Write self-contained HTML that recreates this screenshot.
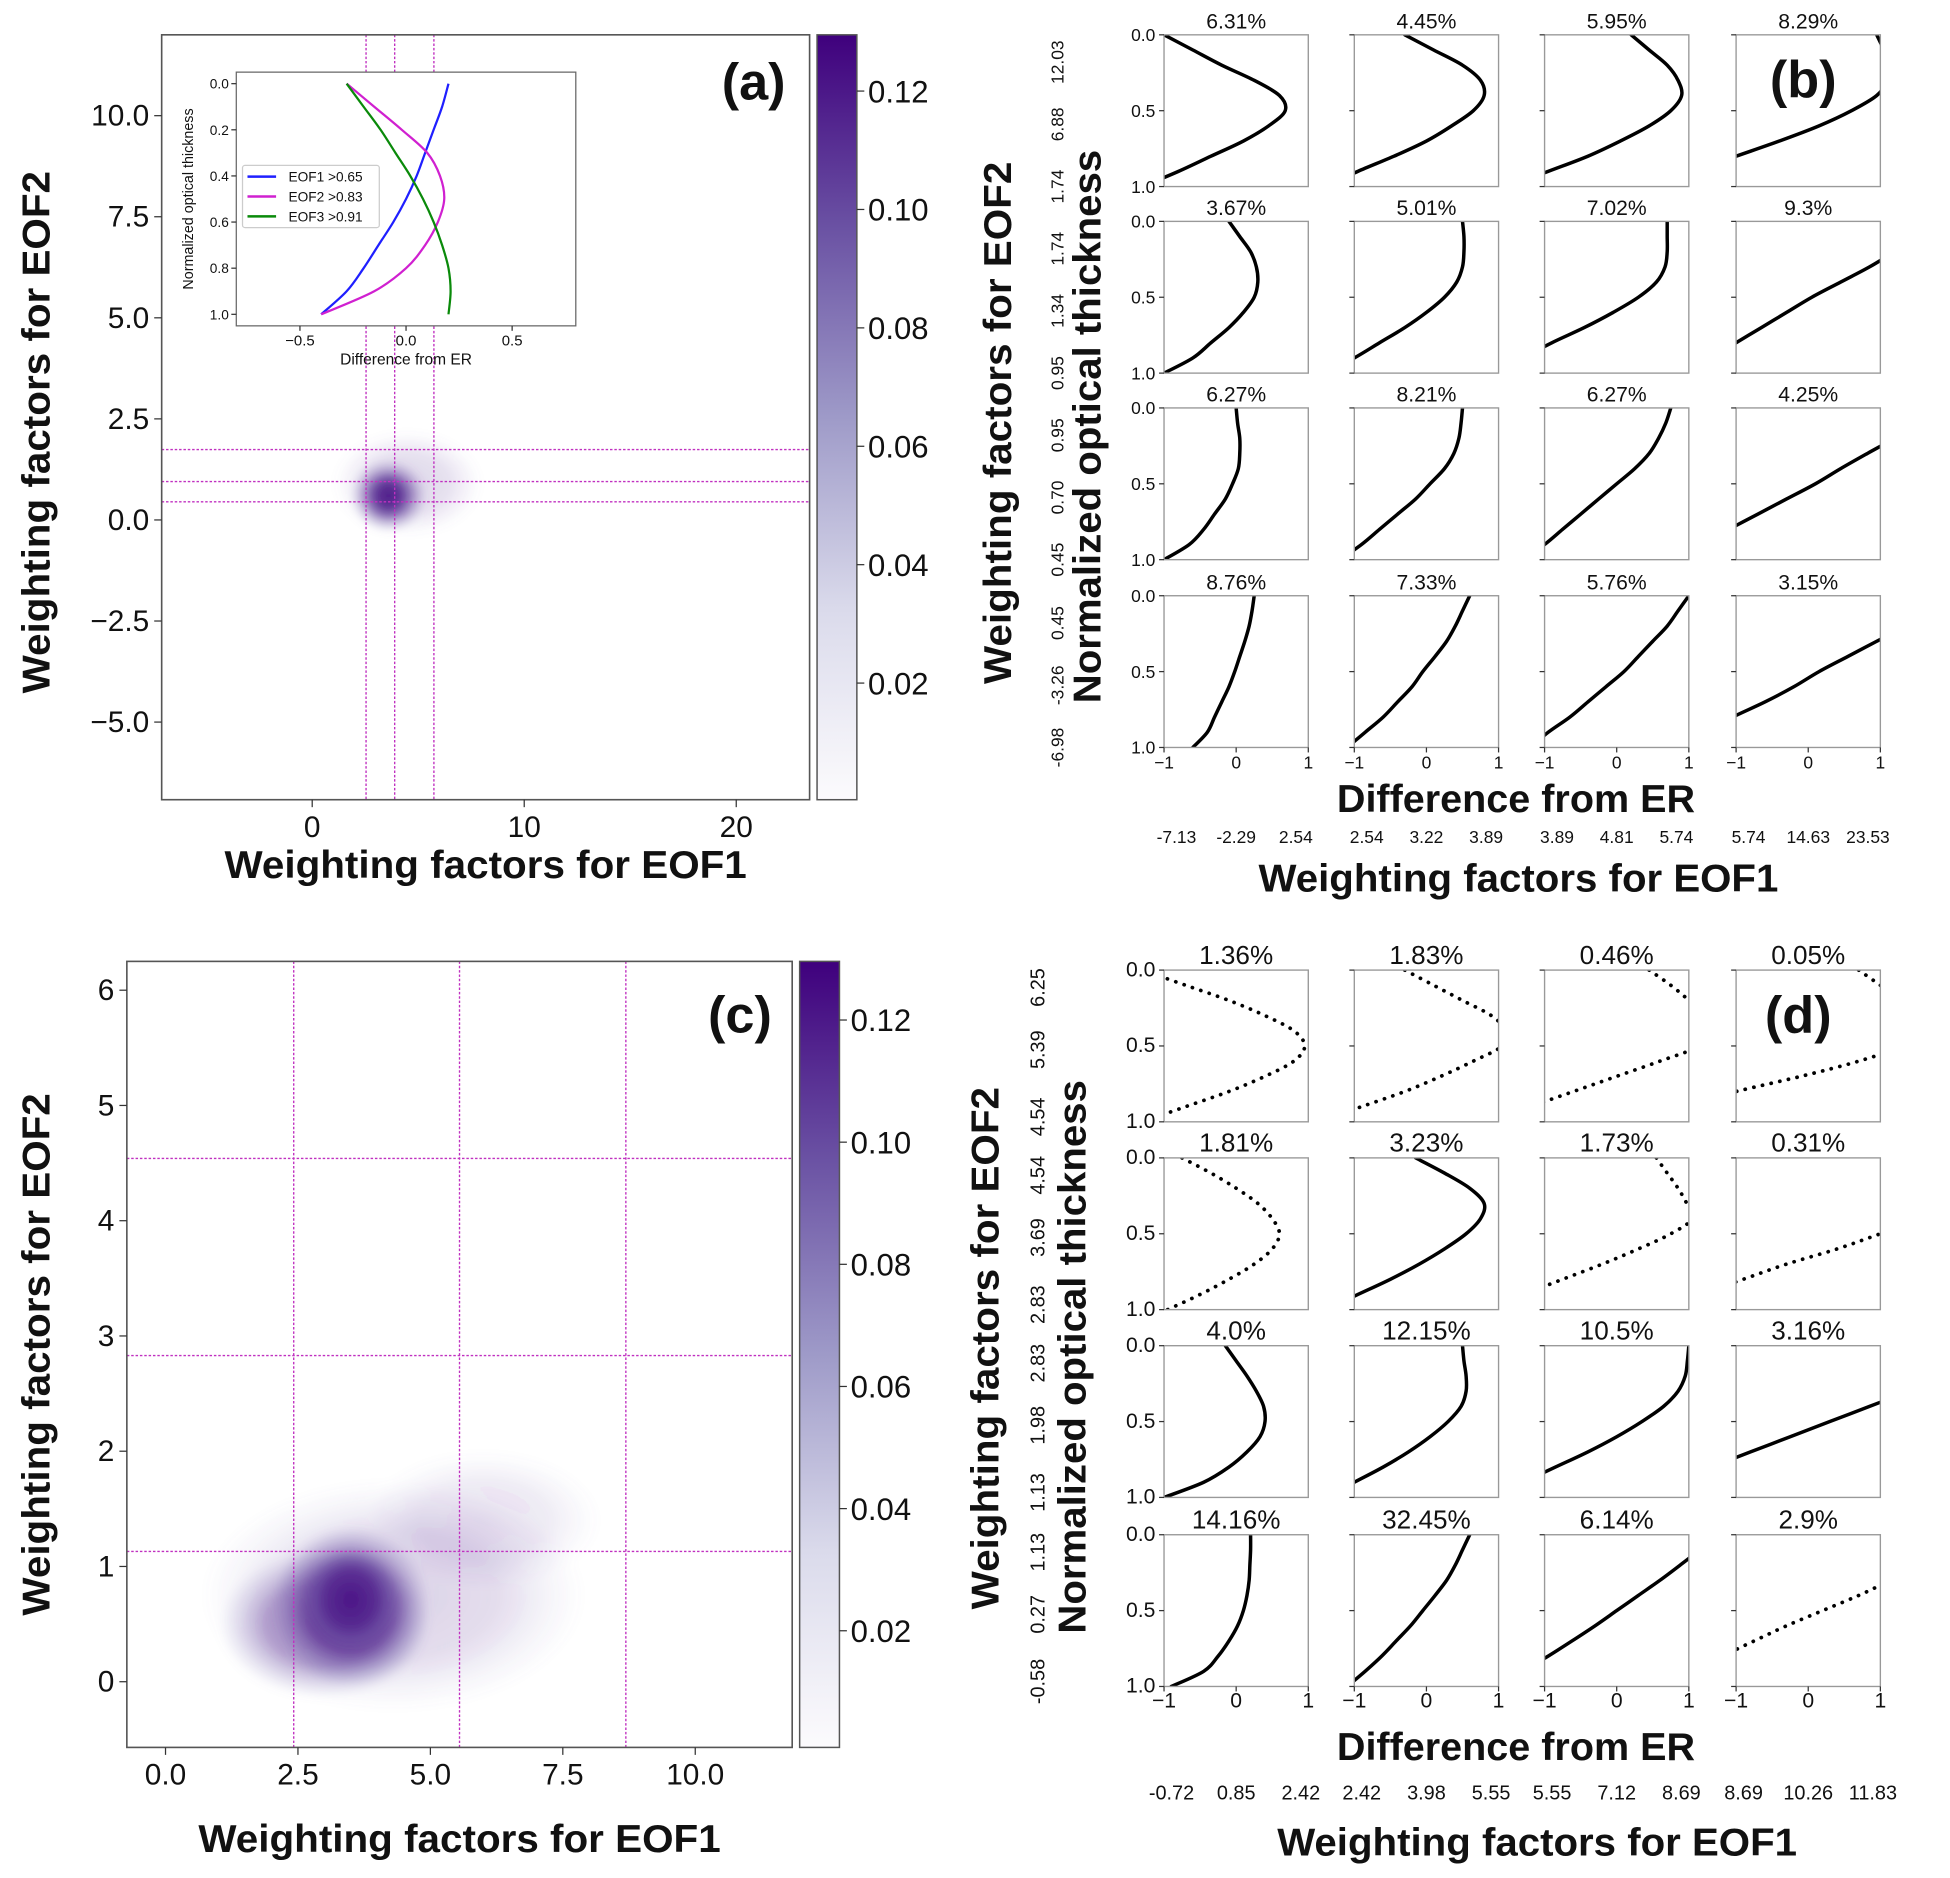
<!DOCTYPE html>
<html><head><meta charset="utf-8"><style>
html,body{margin:0;padding:0;background:#fff}
svg{display:block}
text{font-family:"Liberation Sans","DejaVu Sans",sans-serif;fill:#111}
</style></head><body>
<svg id="fig" width="1950" height="1878" viewBox="0 0 1568 1510" preserveAspectRatio="none" xmlns="http://www.w3.org/2000/svg">
<defs>
<linearGradient id="cmap" x1="0" y1="1" x2="0" y2="0">
<stop offset="0" stop-color="#fcfbfd"/><stop offset="0.25" stop-color="#dadaeb"/><stop offset="0.5" stop-color="#9e9ac8"/><stop offset="0.75" stop-color="#6a51a3"/><stop offset="1" stop-color="#3f007d"/>
</linearGradient>
<radialGradient id="blob"><stop offset="0" stop-color="#4a1486" stop-opacity="1"/><stop offset="0.55" stop-color="#54278f" stop-opacity="0.8"/><stop offset="1" stop-color="#807dba" stop-opacity="0"/></radialGradient>
<filter id="bl"><feGaussianBlur stdDeviation="3"/></filter>
</defs>
<g id="root"></g>
</svg>
<script>
// ---- Panel (a) data ----
const aXTicks=[0,10,20];
const aYTicks=[-5.0,-2.5,0.0,2.5,5.0,7.5,10.0];
const aVLines=[2.54,3.89,5.74];
const aHLines=[0.45,0.95,1.74];
const aBlobX=[4.5,3.6,3.6];
const aBlobY=[0.9,0.6,0.6];
const aBlobRX=[3.5,1.8,1.1];
const aBlobRY=[1.3,0.9,0.6];
const aBlobOp=[0.18,0.7,0.9];
const cbTicks=[0.02,0.04,0.06,0.08,0.10,0.12];
// inset
const insetY=[0,0.1,0.2,0.3,0.4,0.5,0.6,0.7,0.8,0.9,1.0];
const insetEOF1=[0.2,0.17,0.13,0.09,0.05,0.0,-0.06,-0.13,-0.2,-0.28,-0.4];
const insetEOF2=[-0.28,-0.15,-0.02,0.1,0.16,0.18,0.15,0.09,0.0,-0.15,-0.4];
const insetEOF3=[-0.28,-0.2,-0.12,-0.05,0.02,0.08,0.13,0.17,0.2,0.21,0.2];
// ---- Panel (b) data ----
const bTitles=[["6.31%","4.45%","5.95%","8.29%"],["3.67%","5.01%","7.02%","9.3%"],["6.27%","8.21%","6.27%","4.25%"],["8.76%","7.33%","5.76%","3.15%"]];
const bCurves=[
[[-1.0,-0.6,-0.2,0.25,0.6,0.68,0.45,0.1,-0.35,-0.8,-1.3],[-0.3,0.1,0.5,0.75,0.8,0.65,0.35,0.0,-0.45,-0.95,-1.4],[0.2,0.45,0.7,0.85,0.9,0.75,0.45,0.05,-0.4,-0.95,-1.5],[0.95,1.05,1.15,1.1,0.95,0.6,0.15,-0.4,-1.0,-1.6,-2.2]],
[[-0.1,0.05,0.2,0.28,0.3,0.25,0.1,-0.1,-0.35,-0.6,-1.0],[0.5,0.52,0.52,0.5,0.42,0.25,0.0,-0.3,-0.65,-1.0,-1.4],[0.7,0.7,0.7,0.67,0.55,0.3,-0.05,-0.45,-0.9,-1.3,-1.7],[1.9,1.55,1.2,0.85,0.45,0.05,-0.3,-0.65,-1.0,-1.35,-1.7]],
[[0.0,0.02,0.05,0.05,0.03,-0.05,-0.15,-0.3,-0.45,-0.65,-1.0],[0.5,0.48,0.45,0.38,0.25,0.05,-0.15,-0.4,-0.65,-0.9,-1.2],[0.75,0.68,0.58,0.45,0.25,0.0,-0.25,-0.5,-0.75,-1.0,-1.3],[1.9,1.55,1.2,0.82,0.45,0.1,-0.3,-0.7,-1.1,-1.5,-1.9]],
[[0.25,0.22,0.18,0.12,0.05,-0.02,-0.1,-0.2,-0.3,-0.4,-0.6],[0.6,0.5,0.4,0.28,0.12,-0.05,-0.2,-0.4,-0.6,-0.85,-1.1],[1.0,0.85,0.7,0.5,0.3,0.1,-0.15,-0.4,-0.65,-0.95,-1.2],[2.1,1.7,1.35,0.95,0.55,0.15,-0.2,-0.6,-1.05,-1.45,-1.85]]];
const bRowBins=[["12.03","6.88","1.74"],["1.74","1.34","0.95"],["0.95","0.70","0.45"],["0.45","-3.26","-6.98"]];
const bColBins=[["-7.13","-2.29","2.54"],["2.54","3.22","3.89"],["3.89","4.81","5.74"],["5.74","14.63","23.53"]];
// ---- Panel (c) data ----
const cXTicks=[0.0,2.5,5.0,7.5,10.0];
const cYTicks=[0,1,2,3,4,5,6];
const cVLines=[2.42,5.55,8.69];
const cHLines=[1.13,2.83,4.54];
const cBlobX=[4.3,6.0,3.0,3.5,3.5];
const cBlobY=[0.75,1.4,0.5,0.65,0.72];
const cBlobRX=[3.6,2.2,2.0,1.5,0.9];
const cBlobRY=[1.0,0.6,0.65,0.7,0.45];
const cBlobOp=[0.2,0.12,0.5,0.85,0.9];
// ---- Panel (d) data ----
const dTitles=[["1.36%","1.83%","0.46%","0.05%"],["1.81%","3.23%","1.73%","0.31%"],["4.0%","12.15%","10.5%","3.16%"],["14.16%","32.45%","6.14%","2.9%"]];
const dDotted=[[1,1,1,1],[1,0,1,1],[0,0,0,0],[0,0,0,1]];
const dCurves=[
[[-1.3,-0.7,-0.1,0.4,0.8,0.95,0.8,0.4,-0.1,-0.7,-1.3],[-0.3,0.1,0.5,0.9,1.1,1.05,0.65,0.2,-0.3,-0.9,-1.5],[0.45,0.75,1.0,1.2,1.3,1.15,0.6,0.0,-0.6,-1.2,-1.8],[0.7,1.0,1.3,1.5,1.5,1.3,0.7,-0.1,-1.0,-1.8,-2.6]],
[[-0.75,-0.35,0.0,0.3,0.5,0.6,0.5,0.25,-0.1,-0.5,-0.95],[-0.15,0.25,0.6,0.8,0.75,0.55,0.25,-0.1,-0.5,-0.95,-1.4],[0.55,0.7,0.85,0.97,1.05,0.75,0.3,-0.2,-0.75,-1.3,-1.9],[4.1,3.5,2.9,2.2,1.6,1.0,0.4,-0.3,-0.9,-1.5,-2.1]],
[[-0.15,0.0,0.15,0.28,0.38,0.4,0.33,0.15,-0.1,-0.45,-1.0],[0.5,0.52,0.55,0.55,0.48,0.3,0.05,-0.25,-0.6,-1.0,-1.4],[1.0,0.98,0.95,0.85,0.65,0.35,0.0,-0.4,-0.85,-1.3,-1.75],[3.05,2.5,1.95,1.4,0.85,0.3,-0.25,-0.8,-1.35,-1.9,-2.45]],
[[0.2,0.2,0.19,0.18,0.15,0.1,0.02,-0.1,-0.25,-0.45,-0.9],[0.6,0.5,0.4,0.28,0.12,-0.05,-0.22,-0.42,-0.62,-0.85,-1.1],[1.4,1.15,0.88,0.6,0.3,0.0,-0.3,-0.62,-0.95,-1.3,-1.65],[2.6,2.1,1.65,1.15,0.7,0.2,-0.3,-0.75,-1.2,-1.7,-2.2]]];
const dRowBins=[["6.25","5.39","4.54"],["4.54","3.69","2.83"],["2.83","1.98","1.13"],["1.13","0.27","-0.58"]];
const dColBins=[["-0.72","0.85","2.42"],["2.42","3.98","5.55"],["5.55","7.12","8.69"],["8.69","10.26","11.83"]];
const subY=[0,0.1,0.2,0.3,0.4,0.5,0.6,0.7,0.8,0.9,1.0];

const NS="http://www.w3.org/2000/svg";
const root=document.getElementById('root');
function mk(tag,attrs,parent,txt){const e=document.createElementNS(NS,tag);for(const k in attrs)e.setAttribute(k,attrs[k]);if(txt!==undefined)e.textContent=txt;(parent||root).appendChild(e);return e;}
function lin(d0,d1,p0,p1){return v=>p0+(v-d0)*(p1-p0)/(d1-d0);}
function smooth(pts){let d='M'+pts[0][0].toFixed(2)+','+pts[0][1].toFixed(2);for(let i=0;i<pts.length-1;i++){const p0=pts[Math.max(0,i-1)],p1=pts[i],p2=pts[i+1],p3=pts[Math.min(pts.length-1,i+2)];const c1=[p1[0]+(p2[0]-p0[0])/6,p1[1]+(p2[1]-p0[1])/6],c2=[p2[0]-(p3[0]-p1[0])/6,p2[1]-(p3[1]-p1[1])/6];d+='C'+c1[0].toFixed(2)+','+c1[1].toFixed(2)+' '+c2[0].toFixed(2)+','+c2[1].toFixed(2)+' '+p2[0].toFixed(2)+','+p2[1].toFixed(2);}return d;}
let clipId=0;

function heatPanel(P){
  const sx=lin(P.xmin,P.xmax,P.x0,P.x1), sy=lin(P.ymin,P.ymax,P.y1,P.y0);
  const g=mk('g',{});
  
  
  const cid='clip'+(clipId++);
  const cp=mk('clipPath',{id:cid},g);mk('rect',{x:P.x0,y:P.y0,width:P.x1-P.x0,height:P.y1-P.y0},cp);
  const hg=mk('g',{'clip-path':'url(#'+cid+')',filter:'url(#bl)'},g);
  for(let i=0;i<P.bx.length;i++){
    const e=mk('ellipse',{cx:sx(P.bx[i]),cy:sy(P.by[i]),rx:Math.abs(sx(P.brx[i])-sx(0)),ry:Math.abs(sy(P.bry[i])-sy(0)),fill:'url(#blob)',opacity:P.bop[i]},hg);
    
    
  }
  const lg=mk('g',{stroke:'#c030c0','stroke-width':1.1,'stroke-dasharray':'2 1.5'},g);
  P.vl.forEach(v=>{const l=mk('line',{x1:sx(v),x2:sx(v),y1:P.y0,y2:P.y1},lg);});
  P.hl.forEach(v=>{const l=mk('line',{y1:sy(v),y2:sy(v),x1:P.x0,x2:P.x1},lg);});
  mk('rect',{x:P.x0,y:P.y0,width:P.x1-P.x0,height:P.y1-P.y0,fill:'none',stroke:'#555','stroke-width':1.3},g);
  P.xt.forEach(v=>{mk('line',{x1:sx(v),x2:sx(v),y1:P.y1,y2:P.y1+6,stroke:'#333'},g);const t=mk('text',{x:sx(v),y:P.y1+30,'text-anchor':'middle','font-size':24},g,P.xfmt(v));});
  P.yt.forEach(v=>{mk('line',{x1:P.x0-6,x2:P.x0,y1:sy(v),y2:sy(v),stroke:'#333'},g);const t=mk('text',{x:P.x0-10,y:sy(v)+8,'text-anchor':'end','font-size':24},g,P.yfmt(v).replace('-','\u2212'));});
  const cb=mk('g',{},g);
  mk('rect',{x:P.cx,y:P.y0,width:32,height:P.y1-P.y0,fill:'url(#cmap)',stroke:'#555','stroke-width':1.2},cb);
  const cs=lin(P.cmin,P.cmax,P.y1,P.y0);
  cbTicks.forEach(v=>{mk('line',{x1:P.cx+32,x2:P.cx+38,y1:cs(v),y2:cs(v),stroke:'#333'},cb);const t=mk('text',{x:P.cx+41,y:cs(v)+9,'font-size':25},cb,v.toFixed(2));});
  const lab=mk('text',{x:P.lx,y:P.ly,'text-anchor':'middle','font-size':42,'font-weight':'bold'},g,P.label);
  
  const xl=mk('text',{x:(P.x0+P.x1)/2+P.xlOff,y:P.y1+P.xlDy,'text-anchor':'middle','font-size':31,'font-weight':'bold',textLength:420,lengthAdjust:'spacingAndGlyphs'},g,'Weighting factors for EOF1');
  
  const yc=(P.y0+P.y1)/2+P.ylOff;
  const yl=mk('text',{x:0,y:0,transform:'translate(40,'+yc+') rotate(-90)','text-anchor':'middle','font-size':31,'font-weight':'bold',textLength:420,lengthAdjust:'spacingAndGlyphs'},g,'Weighting factors for EOF2');
  
  return g;
}
heatPanel({name:'panel-a',x0:130,x1:651,y0:28,y1:643,xmin:-7.1,xmax:23.46,ymin:-6.92,ymax:12.0,bx:aBlobX,by:aBlobY,brx:aBlobRX,bry:aBlobRY,bop:aBlobOp,vl:aVLines,hl:aHLines,xt:aXTicks,yt:aYTicks,xfmt:v=>String(v),yfmt:v=>v.toFixed(1),cx:657,cmin:0.0003,cmax:0.1295,lx:606,ly:80,label:'(a)',xlOff:0,ylOff:12,xlDy:63});
heatPanel({name:'panel-c',x0:102,x1:637,y0:773,y1:1405,xmin:-0.73,xmax:11.83,ymin:-0.57,ymax:6.25,bx:cBlobX,by:cBlobY,brx:cBlobRX,bry:cBlobRY,bop:cBlobOp,vl:cVLines,hl:cHLines,xt:cXTicks,yt:cYTicks,xfmt:v=>v.toFixed(1),yfmt:v=>String(v),cx:643,cmin:0.0009,cmax:0.1296,lx:595,ly:830,label:'(c)',xlOff:0,ylOff:0,xlDy:84});

// inset
(function(){
  const x0=190,x1=463,y0=58,y1=262;
  const sx=lin(-0.8,0.8,x0,x1), sy=lin(-0.05,1.05,y0,y1);
  const g=mk('g',{});
  mk('rect',{x:x0,y:y0,width:x1-x0,height:y1-y0,fill:'#fff',stroke:'#666','stroke-width':1},g);
  [-0.5,0.0,0.5].forEach(v=>{mk('line',{x1:sx(v),x2:sx(v),y1:y1,y2:y1+4,stroke:'#333'},g);mk('text',{x:sx(v),y:y1+16,'text-anchor':'middle','font-size':12},g,v.toFixed(1).replace('-','\u2212'));});
  [0,0.2,0.4,0.6,0.8,1.0].forEach(v=>{mk('line',{x1:x0-4,x2:x0,y1:sy(v),y2:sy(v),stroke:'#333'},g);mk('text',{x:x0-6,y:sy(v)+4,'text-anchor':'end','font-size':11},g,v.toFixed(1));});
  mk('text',{x:(x0+x1)/2,y:y1+31,'text-anchor':'middle','font-size':12.5},g,'Difference from ER');
  mk('text',{x:0,y:0,transform:'translate(155,'+((y0+y1)/2)+') rotate(-90)','text-anchor':'middle','font-size':11.5},g,'Normalized optical thickness');
  const ser=[[insetEOF1,'#1f1fff','EOF1 >0.65'],[insetEOF2,'#d020d0','EOF2 >0.83'],[insetEOF3,'#0a8a0a','EOF3 >0.91']];
  ser.forEach((s,i)=>{const p=mk('path',{d:smooth(insetY.map((y,k)=>[sx(s[0][k]),sy(y)])),fill:'none',stroke:s[1],'stroke-width':1.8},g);});
  const lg=mk('g',{},g);
  mk('rect',{x:195,y:133,width:110,height:50,fill:'#fff',stroke:'#ccc',rx:2},lg);
  ser.forEach((s,i)=>{mk('line',{x1:199,x2:222,y1:142+i*16,y2:142+i*16,stroke:s[1],'stroke-width':2},lg);const t=mk('text',{x:232,y:146+i*16,'font-size':11},lg,s[2]);});
})();

function grid(G){
  const cols=[936,1089,1242,1396], W=116, H=122;
  const g=mk('g',{});
  for(let r=0;r<4;r++)for(let c=0;c<4;c++){
    const x0=cols[c],y0=G.rows[r],sx=lin(-1,1,x0,x0+W),sy=lin(0,1,y0,y0+H);
    const sg=mk('g',{},g);
    const cid='clip'+(clipId++);const cp=mk('clipPath',{id:cid},sg);mk('rect',{x:x0,y:y0,width:W,height:H},cp);
    const dotted=G.dotted?G.dotted[r][c]:0;
    const p=mk('path',{d:smooth(subY.map((y,k)=>[sx(G.curves[r][c][k]),sy(y)])),fill:'none',stroke:'#000','stroke-width':dotted?3:2.8,'stroke-dasharray':dotted?'0.1 7':'none','stroke-linecap':'round','clip-path':'url(#'+cid+')'},sg);
    
    mk('rect',{x:x0,y:y0,width:W,height:H,fill:'none',stroke:'#999','stroke-width':1.1},sg);
    const t=mk('text',{x:x0+W/2,y:y0-5,'text-anchor':'middle','font-size':G.tfs},sg,G.titles[r][c]);
    [0,0.5,1].forEach(v=>mk('line',{x1:x0-4,x2:x0,y1:sy(v),y2:sy(v),stroke:'#333'},sg));
    if(r===3)[-1,0,1].forEach(v=>mk('line',{x1:sx(v),x2:sx(v),y1:y0+H,y2:y0+H+4,stroke:'#333'},sg));
    if(c===0)[0,0.5,1].forEach(v=>mk('text',{x:x0-7,y:sy(v)+5,'text-anchor':'end','font-size':G.kfs},sg,v.toFixed(1)));
    if(r===3)[-1,0,1].forEach(v=>mk('text',{x:sx(v),y:y0+H+17,'text-anchor':'middle','font-size':G.kfs},sg,String(v).replace('-','\u2212')));
  }
  for(let r=0;r<4;r++)G.rowBins[r].forEach((s,i)=>{const t=mk('text',{x:0,y:0,transform:'translate('+G.rbx+','+(G.rows[r]+G.rbOff[i])+') rotate(-90)','text-anchor':'middle','font-size':G.bfs},g,s);});
  for(let c=0;c<4;c++)G.colBins[c].forEach((s,i)=>{const t=mk('text',{x:cols[c]+W/2+(i-1)*G.cbSp,y:G.cby,'text-anchor':'middle','font-size':G.bfs},g,s);});
  let t=mk('text',{x:1219,y:G.dfy,'text-anchor':'middle','font-size':31,'font-weight':'bold',textLength:288,lengthAdjust:'spacingAndGlyphs'},g,'Difference from ER');
  t=mk('text',{x:G.wfx,y:G.wfy,'text-anchor':'middle','font-size':31,'font-weight':'bold',textLength:418,lengthAdjust:'spacingAndGlyphs'},g,'Weighting factors for EOF1');
  t=mk('text',{x:0,y:0,transform:'translate('+G.e2x+','+G.e2y+') rotate(-90)','text-anchor':'middle','font-size':31,'font-weight':'bold',textLength:420,lengthAdjust:'spacingAndGlyphs'},g,'Weighting factors for EOF2');
  t=mk('text',{x:0,y:0,transform:'translate('+G.nx+','+G.ny+') rotate(-90)','text-anchor':'middle','font-size':31,'font-weight':'bold',textLength:445,lengthAdjust:'spacingAndGlyphs'},g,'Normalized optical thickness');
  t=mk('text',{x:G.lx,y:G.ly,'text-anchor':'middle','font-size':42,'font-weight':'bold'},g,G.label);
}
grid({name:'panel-b',rows:[28,178,328,479],curves:bCurves,titles:bTitles,tfs:17,kfs:14,bfs:14,rowBins:bRowBins,colBins:bColBins,rbx:855,rbOff:[22,72,122],cbSp:48,cby:678,dfy:653,wfx:1221,wfy:717,e2x:813,e2y:340,nx:885,ny:343,lx:1450,ly:78,label:'(b)'});
grid({name:'panel-d',rows:[780,931,1082,1234],curves:dCurves,dotted:dDotted,titles:dTitles,tfs:21,kfs:17,bfs:16,rowBins:dRowBins,colBins:dColBins,rbx:840,rbOff:[14,64,118],cbSp:52,cby:1447,dfy:1415,wfx:1236,wfy:1492,e2x:803,e2y:1084,nx:873,ny:1091,lx:1446,ly:830,label:'(d)'});
</script>
</body></html>
